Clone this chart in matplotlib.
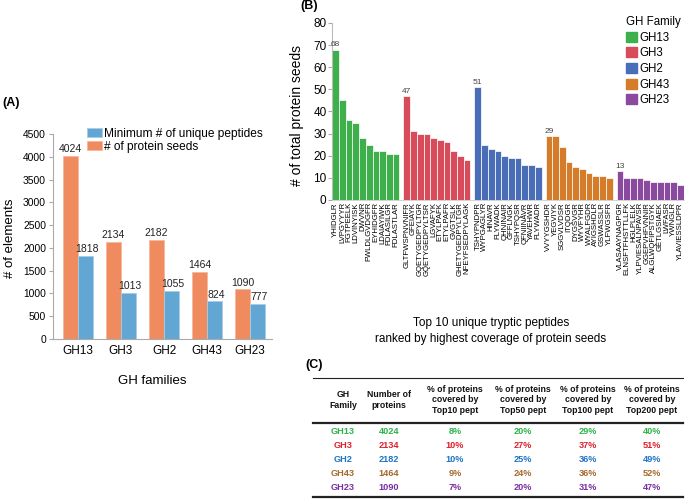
import matplotlib
matplotlib.use('Agg')
import matplotlib.pyplot as plt
import numpy as np
from matplotlib.patches import Patch

plt.rcParams['font.family'] = ['Liberation Sans', 'DejaVu Sans']

# ---------------- data ----------------
families = ['GH13', 'GH3', 'GH2', 'GH43', 'GH23']
protein_seeds = [4024, 2134, 2182, 1464, 1090]
min_unique_peptides = [1818, 1013, 1055, 824, 777]

gh13_peptides = ['YHIDGLR', 'LVPGYYYR', 'FGTPEELK', 'LDVINYISK', 'DWVNR', 'FWLDLGVDGFR',
                 'EYHIDGFR', 'LDAIAYIWK', 'FDLASILGR', 'FDLASTLAR']
gh13_values = [68, 45, 36, 35, 28, 25, 22, 22, 21, 21]
gh3_peptides = ['GLTFWSPNVNIFR', 'GFEIAYK', 'GQETYGEDPYLTGR', 'GQETYGEDPYLTSR', 'LGVAFYK',
                'ETYLPAFK', 'ETYLPAFR', 'GVGTSLK', 'GHETYGEDPYLTGR', 'NFEYFSEDPYLAGK']
gh3_values = [47, 31, 30, 30, 28, 27, 26, 22, 20, 18]
gh2_peptides = ['TSHYPNDPR', 'WYPGAGLYR', 'HINAVR', 'FLYWADK', 'QHNINAIR', 'GFFLNGK',
                'TSHYPQSR', 'QFNIINAVR', 'YAVEHWR', 'FLYWADR']
gh2_values = [51, 25, 23, 22, 20, 19, 19, 16, 16, 15]
gh43_peptides = ['VVYYGSHDR', 'YEGVIYK', 'SGGVLVDSR', 'ITQDGR', 'DYGSVGR', 'WYVFYHR',
                 'WYALFGDR', 'AYIGSHDLR', 'GSWASSLR', 'YLFWGSFR']
gh43_values = [29, 29, 24, 17, 15, 14, 12, 11, 11, 10]
gh23_peptides = ['VLASAAYNAGPGR', 'ELNSFTFHSTTLLFK', 'HGLPLELK', 'YLPVIESALNPAVSR',
                 'GGEPVHFVNNIR', 'ALGLWQFIPSTGYK', 'GETLGSIAEK', 'LWFASR', 'YWNGLR',
                 'YLAVIESSLDPR']
gh23_values = [13, 10, 10, 10, 9, 8, 8, 8, 8, 7]

table_numbers = ['4024', '2134', '2182', '1464', '1090']
top10 = ['8%', '10%', '10%', '9%', '7%']
top50 = ['20%', '27%', '25%', '24%', '20%']
top100 = ['29%', '37%', '36%', '36%', '31%']
top200 = ['40%', '51%', '49%', '52%', '47%']

# ---------------- figure ----------------
W, H = 685, 499
fig = plt.figure(figsize=(W / 100, H / 100), dpi=100)


def ax_px(l, t, r, b):
    return fig.add_axes([l / W, 1 - b / H, (r - l) / W, (b - t) / H])


axis_gray = '#AAAAAA'

# ---------------- Panel A ----------------
col_orange = '#F08B60'
col_blue = '#62A7D4'
axA = ax_px(53, 134, 272, 339)
x = np.arange(len(families))
bw = 0.35
bo = axA.bar(x - bw / 2, protein_seeds, bw, color=col_orange, edgecolor='#F7B89A', linewidth=0.6,
             label='# of protein seeds')
bb = axA.bar(x + bw / 2, min_unique_peptides, bw, color=col_blue, edgecolor='#A8CDE6', linewidth=0.6,
             label='Minimum # of unique peptides')
for xi, v in zip(x, protein_seeds):
    axA.text(xi - bw / 2, v + 40, str(v), ha='center', va='bottom', fontsize=7.5, color='#222222')
for xi, v in zip(x, min_unique_peptides):
    axA.text(xi + bw / 2 + 0.04, v + 40, str(v), ha='center', va='bottom', fontsize=7.5,
             color='#222222')
axA.set_ylim(0, 4500)
axA.set_xlim(-0.58, 4.51)
axA.set_yticks(np.arange(0, 4501, 500))
axA.set_xticks(x)
axA.set_xticklabels(families, fontsize=8.5)
axA.tick_params(axis='y', labelsize=7.4, length=3, color=axis_gray, pad=2)
axA.tick_params(axis='x', length=0, pad=4)
for s in ['top', 'right']:
    axA.spines[s].set_visible(False)
for s in ['left', 'bottom']:
    axA.spines[s].set_color(axis_gray)
    axA.spines[s].set_linewidth(0.8)
axA.legend(handles=[bb, bo], loc='upper left', bbox_to_anchor=((86 - 53) / 219, 1.035),
           frameon=False, fontsize=8.6, handlelength=1.2, handleheight=0.8, handletextpad=0.2,
           labelspacing=0.05, borderpad=0.1, borderaxespad=0)
fig.text(10 / W, 1 - 238 / H, '# of elements', rotation=90, ha='center', va='center', fontsize=9.5)
fig.text(152 / W, 1 - 381 / H, 'GH families', ha='center', va='center', fontsize=9.5)
fig.text(2 / W, 1 - 103 / H, '(A)', ha='left', va='center', fontsize=9, fontweight='bold')

# ---------------- Panel B ----------------
group_colors = ['#3DB04B', '#D84B5B', '#4A6DB8', '#D57C2A', '#8A4AA0']
group_peptides = [gh13_peptides, gh3_peptides, gh2_peptides, gh43_peptides, gh23_peptides]
group_values = [gh13_values, gh3_values, gh2_values, gh43_values, gh23_values]

axB = ax_px(332, 23, 684, 200)
gap = 0.6
positions, labels = [], []
for g, (peps, vals, col) in enumerate(zip(group_peptides, group_values, group_colors)):
    pos = g * (10 + gap) + np.arange(len(vals))
    axB.bar(pos, vals, 1.0, color=col, edgecolor='#FFFFFF', linewidth=0.5, alpha=1.0)
    axB.text(pos[0], vals[0] + 0.5, str(vals[0]), ha='center', va='bottom', fontsize=6,
             color='#444444')
    positions.extend(pos)
    labels.extend(peps)
axB.set_xlim(-0.55, positions[-1] + 0.55)
axB.set_ylim(0, 80)
axB.set_yticks(np.arange(0, 81, 10))
axB.set_xticks(positions)
axB.set_xticklabels(labels, rotation=90, fontsize=5.6)
axB.tick_params(axis='x', length=0, pad=1.5)
axB.tick_params(axis='y', labelsize=8.5, length=3, color=axis_gray, pad=1)
for s in ['top', 'right']:
    axB.spines[s].set_visible(False)
axB.spines['left'].set_color('#BBBBBB')
axB.spines['bottom'].set_color('#CCCCCC')
axB.spines['left'].set_linewidth(0.8)
axB.spines['bottom'].set_linewidth(0.6)

handles = [Patch(facecolor=c, edgecolor=c, label=f) for c, f in zip(group_colors, families)]
leg = fig.legend(handles=handles, title='GH Family', loc='upper left',
                 bbox_to_anchor=(619 / W, 1 - 9 / H), frameon=False, fontsize=8.3,
                 title_fontsize=8.3, handlelength=0.95, handleheight=0.95, handletextpad=0.2,
                 labelspacing=0.32, borderpad=0.1)
leg._legend_box.align = 'left'
fig.text(297 / W, 1 - 115 / H, '# of total protein seeds', rotation=90, ha='center', va='center',
         fontsize=10)
fig.text(491 / W, 1 - 331 / H, 'Top 10 unique tryptic peptides\nranked by highest coverage of protein seeds',
         ha='center', va='center', fontsize=8.5, linespacing=1.5)
fig.text(300 / W, 1 - 6 / H, '(B)', ha='left', va='center', fontsize=9, fontweight='bold')

# ---------------- Panel C (table) ----------------
axT = fig.add_axes([0, 0, 1, 1])
axT.set_xlim(0, W)
axT.set_ylim(H, 0)
axT.axis('off')
fig.text(305 / W, 1 - 365 / H, '(C)', ha='left', va='center', fontsize=9, fontweight='bold')

col_x = [343, 389, 455, 523, 588, 652]
headers = ['GH\nFamily', 'Number of\nproteins', '% of proteins\ncovered by\nTop10 pept',
           '% of proteins\ncovered by\nTop50 pept', '% of proteins\ncovered by\nTop100 pept',
           '% of proteins\ncovered by\nTop200 pept']
for cx, h in zip(col_x, headers):
    axT.text(cx, 400, h, ha='center', va='center', fontsize=6.3, fontweight='bold',
             linespacing=1.15, color='#111111')
axT.plot([313, 683], [378, 378], color='#222222', lw=0.8)
axT.plot([313, 683], [422.5, 422.5], color='#222222', lw=1.6)
axT.plot([313, 683], [497, 497], color='#222222', lw=1.6)

row_colors = ['#2DB34A', '#E0202C', '#1F74C4', '#A5682E', '#7A2EA2']
row_y = [432, 445.5, 459.5, 473, 487]
columns = [families, table_numbers, top10, top50, top100, top200]
for r, (ry, rc) in enumerate(zip(row_y, row_colors)):
    for cx, col in zip(col_x, columns):
        axT.text(cx, ry, col[r], ha='center', va='center', fontsize=6.6,
                 fontweight='bold', color=rc)

fig.savefig('out.png', dpi=100)
